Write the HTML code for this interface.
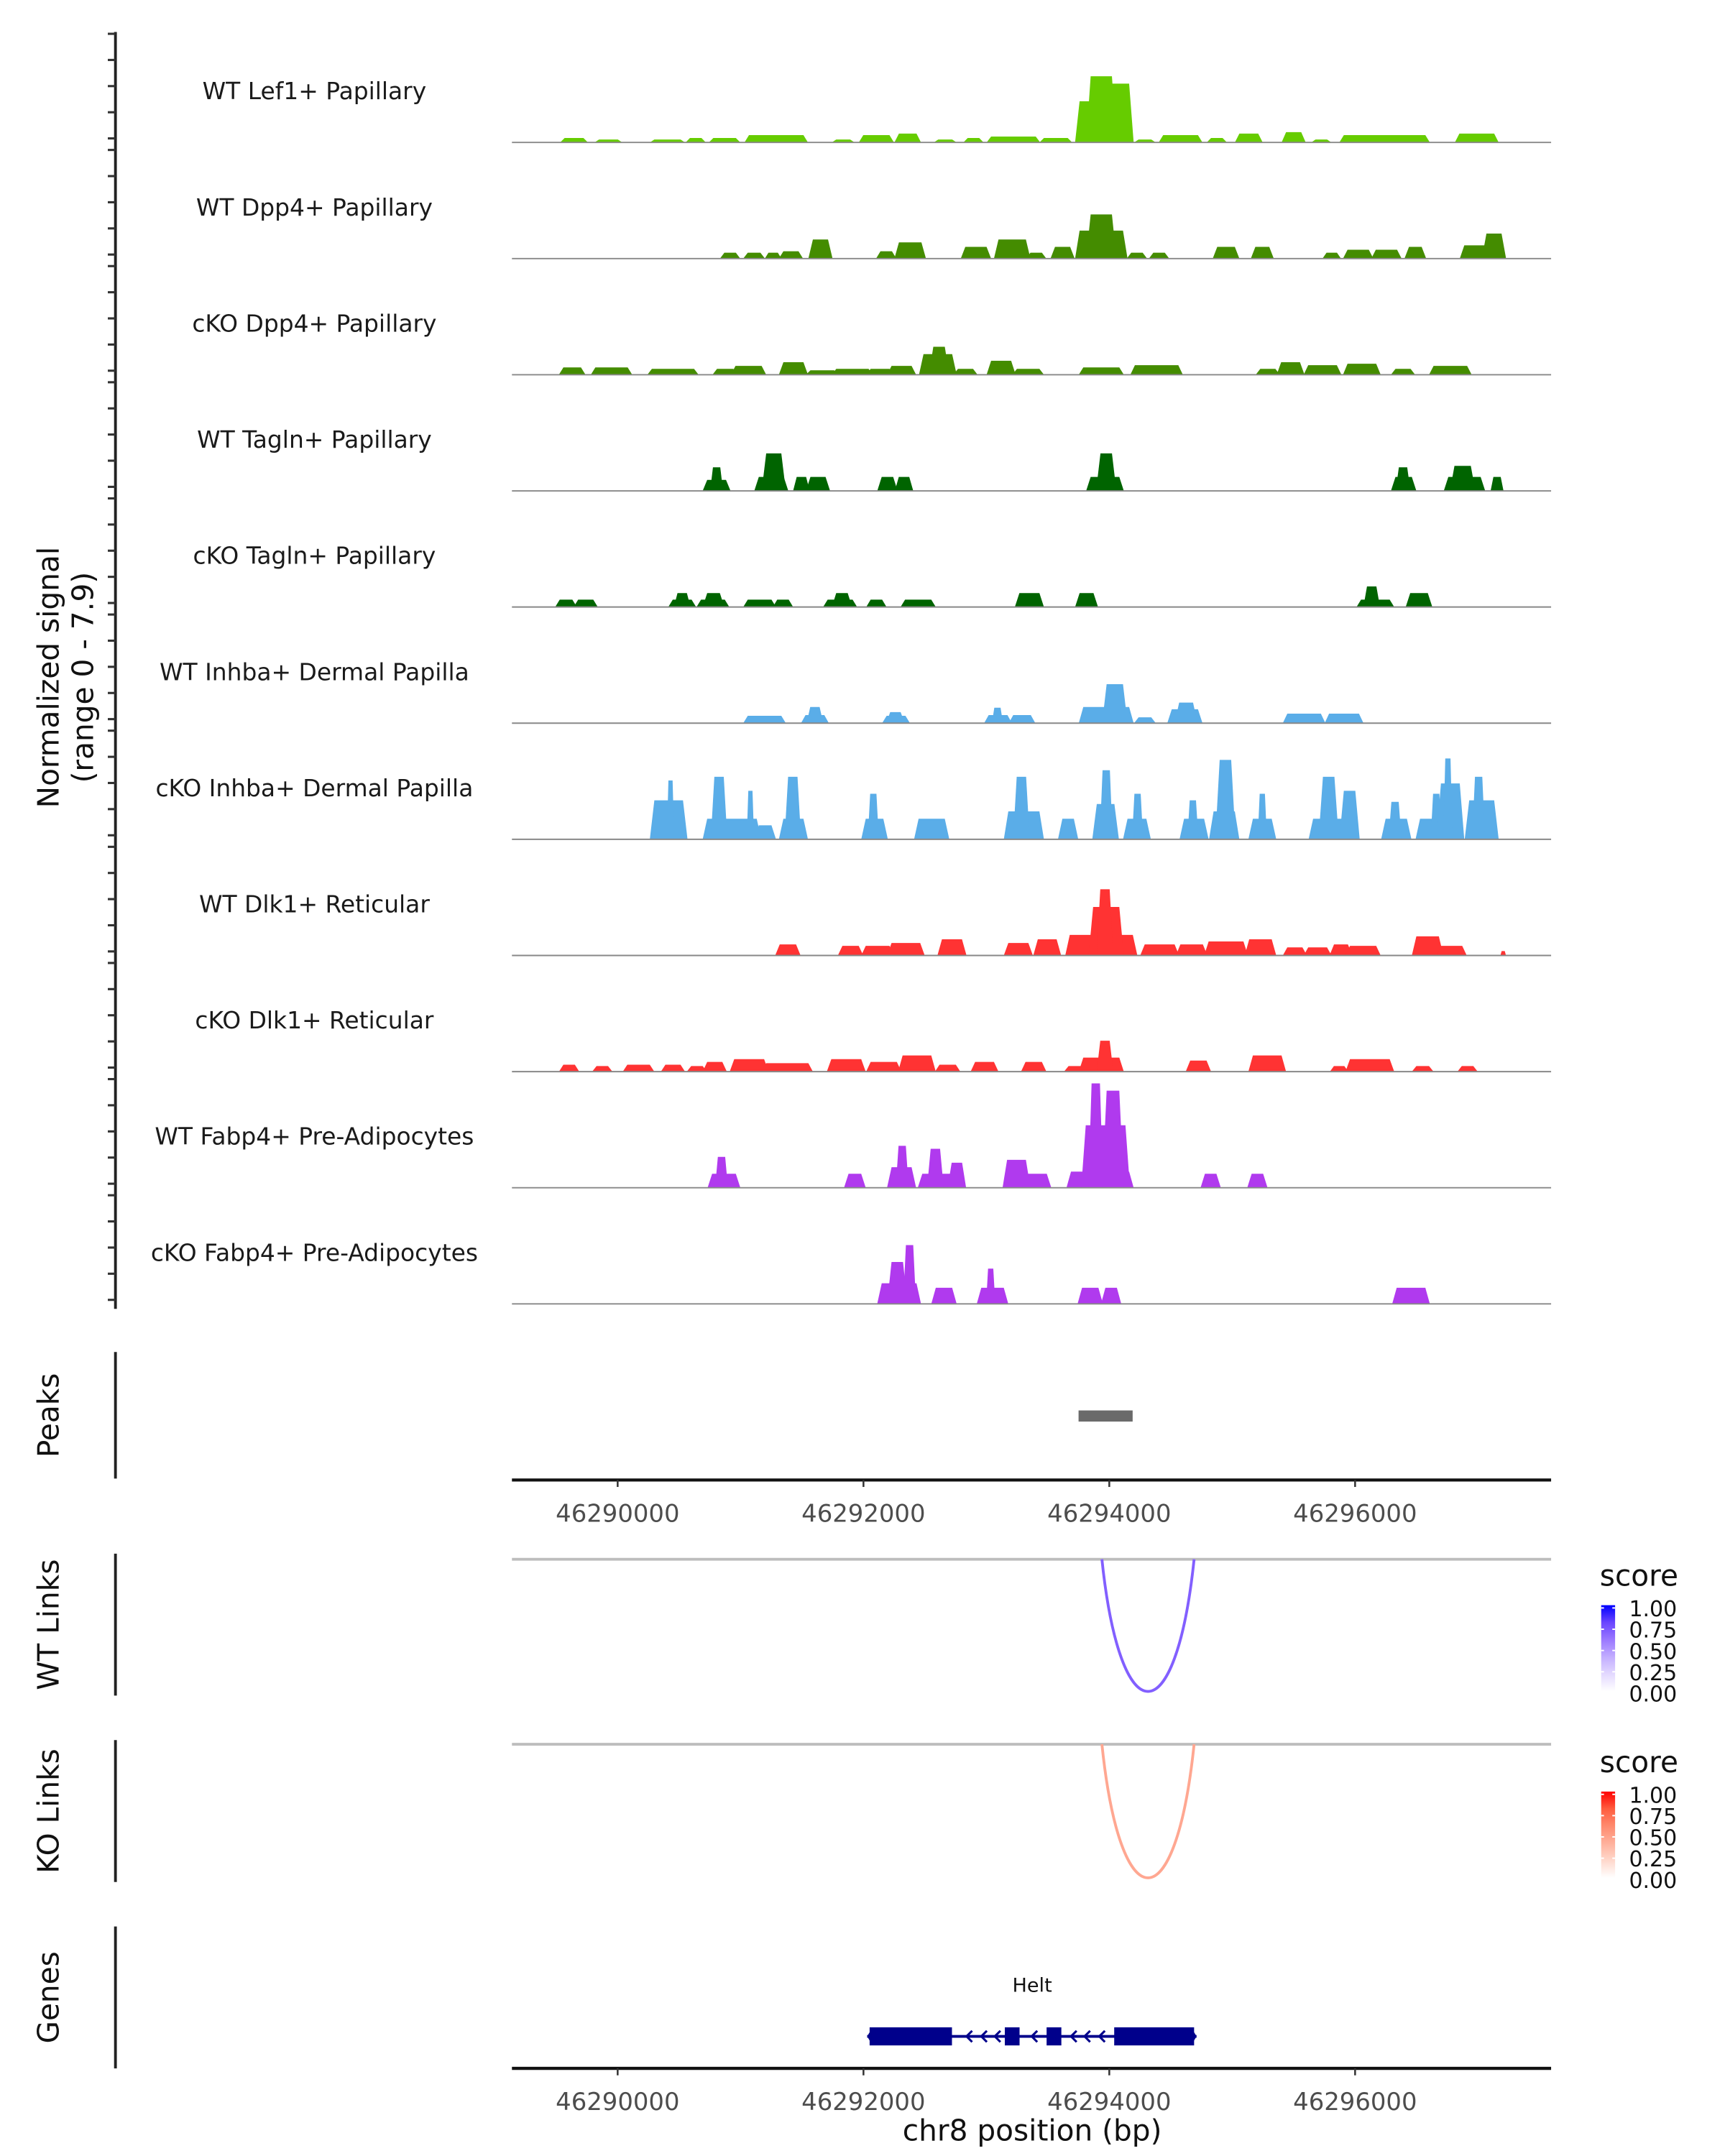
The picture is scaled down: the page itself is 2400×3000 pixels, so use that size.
<!DOCTYPE html>
<html><head><meta charset="utf-8"><title>Coverage plot chr8 Helt</title>
<style>html,body{margin:0;padding:0;background:#fff;}svg{display:block;font-family:"DejaVu Sans","Liberation Sans",sans-serif;}</style>
</head><body>
<svg id="chart" width="2400" height="3000" viewBox="0 0 1240 1550" xmlns="http://www.w3.org/2000/svg"></svg>
<script>
// ---- data (positions: kb offset from 46,290,000 bp; heights: normalized signal) ----
const trackNames = ["WT Lef1+ Papillary","WT Dpp4+ Papillary","cKO Dpp4+ Papillary","WT Tagln+ Papillary","cKO Tagln+ Papillary","WT Inhba+ Dermal Papilla","cKO Inhba+ Dermal Papilla","WT Dlk1+ Reticular","cKO Dlk1+ Reticular","WT Fabp4+ Pre-Adipocytes","cKO Fabp4+ Pre-Adipocytes"];
const trackColors = ["#66cc00","#448c00","#448c00","#006400","#006400","#5aade8","#5aade8","#ff3333","#ff3333","#b03aee","#b03aee"];
const xTicks = [46290000,46292000,46294000,46296000];
const xTickLabels = ["46290000","46292000","46294000","46296000"];
const legendTicks = ["1.00","0.75","0.50","0.25","0.00"];
const sigLef1 = [[-0.44,-0.27,0.3],[-0.16,0.01,0.2],[0.29,0.52,0.2],[0.58,0.69,0.3],[0.77,0.97,0.3],[1.06,1.52,0.5],[1.77,1.90,0.2],[1.99,2.22,0.5],[2.28,2.44,0.6],[2.60,2.73,0.2],[2.84,2.95,0.3],[3.03,3.41,0.4],[3.46,3.67,0.3],[3.75,3.92,2.8],[3.84,4.03,4.5],[3.97,4.17,4.0],[4.23,4.35,0.2],[4.43,4.73,0.5],[4.82,4.93,0.3],[5.05,5.22,0.6],[5.43,5.57,0.7],[5.67,5.78,0.2],[5.90,6.58,0.5],[6.84,7.14,0.6]];
const sigDpp4WT = [[0.86,0.97,0.4],[1.05,1.17,0.4],[1.22,1.31,0.4],[1.34,1.48,0.5],[1.58,1.72,1.3],[2.13,2.24,0.5],[2.28,2.48,1.1],[2.82,3.01,0.8],[3.09,3.33,1.3],[3.35,3.46,0.4],[3.55,3.69,0.8],[3.75,4.12,1.9],[3.84,4.03,3.0],[4.17,4.28,0.4],[4.35,4.46,0.4],[4.87,5.03,0.8],[5.18,5.31,0.8],[5.76,5.86,0.4],[5.93,6.12,0.6],[6.16,6.35,0.6],[6.43,6.55,0.8],[6.88,7.09,0.9],[7.06,7.20,1.7]];
const sigDpp4KO = [[-0.45,-0.29,0.5],[-0.19,0.09,0.5],[0.27,0.63,0.4],[0.80,0.95,0.4],[0.95,1.18,0.6],[1.34,1.52,0.85],[1.56,1.77,0.3],[1.77,2.05,0.4],[2.05,2.22,0.4],[2.22,2.40,0.6],[2.48,2.73,1.4],[2.56,2.67,1.9],[2.76,2.90,0.4],[3.03,3.21,0.95],[3.24,3.44,0.4],[3.78,4.09,0.5],[4.20,4.57,0.65],[5.22,5.36,0.4],[5.39,5.56,0.85],[5.61,5.86,0.65],[5.93,6.18,0.75],[6.32,6.46,0.4],[6.63,6.92,0.6]];
const sigTaglnWT = [[0.72,0.89,0.75],[0.77,0.84,1.6],[1.14,1.36,0.95],[1.20,1.34,2.55],[1.45,1.54,0.95],[1.56,1.70,0.95],[2.14,2.25,0.95],[2.28,2.38,0.95],[3.84,4.09,0.95],[3.92,4.03,2.55],[6.32,6.47,0.95],[6.35,6.43,1.6],[6.75,7.03,0.95],[6.80,6.95,1.7],[7.12,7.19,0.95]];
const sigTaglnKO = [[-0.48,-0.36,0.5],[-0.33,-0.19,0.5],[0.44,0.61,0.5],[0.48,0.57,0.95],[0.67,0.88,0.5],[0.72,0.84,0.95],[1.05,1.26,0.5],[1.29,1.40,0.5],[1.70,1.92,0.5],[1.77,1.88,0.95],[2.05,2.16,0.5],[2.33,2.56,0.5],[3.26,3.44,0.95],[3.75,3.88,0.95],[6.04,6.29,0.5],[6.09,6.18,1.4],[6.44,6.60,0.95]];
const sigInhbaWT = [[1.05,1.34,0.5],[1.52,1.69,0.55],[1.56,1.65,1.1],[2.18,2.35,0.5],[2.21,2.31,0.75],[3.01,3.18,0.55],[3.06,3.12,1.05],[3.21,3.37,0.55],[3.78,4.17,1.1],[3.97,4.12,2.65],[4.23,4.35,0.4],[4.50,4.73,0.95],[4.56,4.69,1.4],[5.44,5.73,0.65],[5.78,5.89,0.65],[5.86,6.04,0.65]];
const sigInhbaKO = [[0.29,0.54,2.65],[0.41,0.45,4.0],[0.72,1.14,1.4],[0.78,0.87,4.25],[1.06,1.10,3.3],[1.14,1.26,0.95],[1.34,1.52,1.4],[1.38,1.47,4.25],[2.01,2.17,1.4],[2.05,2.11,3.1],[2.44,2.67,1.4],[3.17,3.44,1.9],[3.24,3.33,4.25],[3.61,3.72,1.4],[3.89,4.05,2.4],[3.94,4.01,4.7],[4.14,4.31,1.4],[4.20,4.26,3.1],[4.60,4.78,1.4],[4.65,4.71,2.65],[4.84,5.03,1.9],[4.89,5.00,5.4],[5.16,5.33,1.4],[5.22,5.27,3.1],[5.65,5.90,1.4],[5.73,5.84,4.25],[5.90,6.01,3.3],[6.24,6.43,1.4],[6.29,6.36,2.55],[6.52,6.86,1.4],[6.63,6.69,3.1],[6.69,6.86,3.8],[6.73,6.78,5.5],[6.92,7.14,2.65],[6.97,7.04,4.25]];
const sigDlk1WT = [[1.31,1.46,0.75],[1.82,1.97,0.65],[2.01,2.22,0.65],[2.22,2.47,0.85],[2.63,2.81,1.1],[3.17,3.35,0.85],[3.41,3.58,1.1],[3.67,4.20,1.4],[3.86,4.09,3.3],[3.92,4.01,4.5],[4.28,4.54,0.75],[4.57,4.77,0.75],[4.80,5.10,0.95],[5.13,5.33,1.1],[5.44,5.58,0.55],[5.61,5.78,0.55],[5.82,5.95,0.75],[5.95,6.18,0.65],[6.49,6.69,1.3],[6.69,6.88,0.65],[7.19,7.22,0.3]];
const sigDlk1KO = [[-0.45,-0.34,0.47],[-0.18,-0.07,0.38],[0.07,0.27,0.47],[0.38,0.52,0.47],[0.59,0.70,0.38],[0.72,0.86,0.66],[0.94,1.20,0.85],[1.20,1.56,0.57],[1.73,1.99,0.85],[2.05,2.28,0.66],[2.31,2.56,1.1],[2.61,2.76,0.47],[2.90,3.07,0.66],[3.31,3.46,0.66],[3.66,3.80,0.38],[3.78,4.09,0.95],[3.92,4.01,2.1],[4.65,4.80,0.75],[5.16,5.41,1.1],[5.82,5.92,0.38],[5.95,6.29,0.85],[6.49,6.61,0.38],[6.86,6.97,0.38]];
const sigFabp4WT = [[0.76,0.97,0.95],[0.81,0.88,2.1],[1.87,1.99,0.95],[2.22,2.40,1.4],[2.28,2.35,2.85],[2.47,2.73,0.95],[2.54,2.63,2.65],[2.71,2.81,1.7],[3.16,3.33,1.9],[3.32,3.50,0.95],[3.68,4.17,1.1],[3.80,4.14,4.25],[3.85,3.93,7.1],[3.97,4.09,6.6],[4.77,4.88,0.95],[5.15,5.26,0.95]];
const sigFabp4KO = [[2.14,2.44,1.4],[2.22,2.33,2.85],[2.34,2.41,4.0],[2.58,2.73,1.1],[2.95,3.15,1.1],[3.01,3.06,2.4],[3.77,3.92,1.1],[3.96,4.07,1.1],[6.33,6.58,1.1]];
const signals = [sigLef1,sigDpp4WT,sigDpp4KO,sigTaglnWT,sigTaglnKO,sigInhbaWT,sigInhbaKO,sigDlk1WT,sigDlk1KO,sigFabp4WT,sigFabp4KO];
const peakRegions = [[3.75,4.19]];
const wtLinks = [[3.94,4.69,0.7]];
const koLinks = [[3.94,4.69,0.45]];
const geneExons = [[2.05,2.72],[3.15,3.27],[3.49,3.61],[4.04,4.69]];
const geneSpan = [2.03,4.71];
const geneArrows = [2.85,2.97,3.08,3.38,3.70,3.81,3.93];
const wtPalette = ["#ffffff","#e3d9ff","#c2adff","#9a78ff","#6a45ff","#0000ff"];
const koPalette = ["#ffffff","#ffd8cc","#ffb19c","#ff8a6e","#ff5d3f","#ff0000"];

// ---- scales ----
const X0=444, PXKB=88.35;
function xKb(o){return X0+o*PXKB;}
function xBp(bp){return X0+(bp-46290000)/1000*PXKB;}
const BASE0=102.4, TSTEP=83.5, PXU=10.57;
function yT(i,v){return BASE0+i*TSTEP - v*PXU;}

const svg=document.getElementById('chart');
const NS="http://www.w3.org/2000/svg";
function mk(tag,attrs,parent){const e=document.createElementNS(NS,tag);for(const k in attrs)e.setAttribute(k,attrs[k]);(parent||svg).appendChild(e);return e;}
function txt(s,attrs,parent){const e=mk('text',attrs,parent);e.textContent=s;return e;}

// left signal axis
let g=mk('g',{});


mk('line',{x1:83,y1:23,x2:83,y2:941,stroke:'#222','stroke-width':2},g);
for(let i=0;i<11;i++){for(let k=0;k<5;k++){const y=99.5+i*TSTEP-k*18.8;mk('line',{x1:77.5,y1:y,x2:83,y2:y,stroke:'#333','stroke-width':1.6},g);}}
let t=txt('Normalized signal',{x:0,y:0,'font-size':21,fill:'#111','text-anchor':'middle',transform:'translate(42,487) rotate(-90)'});


t=txt('(range 0 - 7.9)',{x:0,y:0,'font-size':21,fill:'#111','text-anchor':'middle',transform:'translate(67,487) rotate(-90)'});



// tracks
for(let i=0;i<11;i++){
  const tg=mk('g',{});
  
  
  const lb=txt(trackNames[i],{x:226,y:yT(i,0)-31,'font-size':17,fill:'#1a1a1a','text-anchor':'middle'},tg);
  
  
  const b=yT(i,0);
  signals[i].forEach(p=>{
    const s=xKb(p[0]),e=xKb(p[1]),top=yT(i,p[2]);const sl=Math.min(2.5,(e-s)/4);
    const pg=mk('polygon',{points:`${s-sl},${b} ${s+sl*0.3},${top} ${e-sl*0.3},${top} ${e+sl},${b}`,fill:trackColors[i]},tg);
    
    
  });
  const bl=mk('line',{x1:368,y1:b,x2:1115,y2:b,stroke:'#888','stroke-width':1},tg);
  
  
}

// side panel titles + axes
function sidePanel(name,label,y1,y2){
  const pg=mk('g',{});
  
  
  mk('line',{x1:83,y1:y1,x2:83,y2:y2,stroke:'#222','stroke-width':2},pg);
  txt(label,{x:0,y:0,'font-size':21,fill:'#111','text-anchor':'middle',transform:`translate(42,${(y1+y2)/2}) rotate(-90)`},pg);
}
sidePanel('peaks-panel-axis','Peaks',972,1063);
sidePanel('wt-links-panel-axis','WT Links',1117,1219);
sidePanel('ko-links-panel-axis','KO Links',1251,1353);
sidePanel('genes-panel-axis','Genes',1385,1487);

// peaks
peakRegions.forEach(p=>{
  const r=mk('rect',{x:xKb(p[0]),y:1014,width:xKb(p[1])-xKb(p[0]),height:8,fill:'#6a6a6a'});
  
  
});

// x axes
function xAxis(name,y,title){
  const ag=mk('g',{});
  
  
  mk('line',{x1:368,y1:y,x2:1115,y2:y,stroke:'#111','stroke-width':2.2},ag);
  xTicks.forEach((v,j)=>{const x=xBp(v);mk('line',{x1:x,y1:y,x2:x,y2:y+5,stroke:'#333','stroke-width':1.3},ag);
    txt(xTickLabels[j],{x:x,y:y+30,'font-size':17.5,fill:'#4d4d4d','text-anchor':'middle'},ag);});
  if(title){txt(title,{x:742,y:y+52,'font-size':21,fill:'#111','text-anchor':'middle'},ag);}
}
xAxis('peaks-x-axis',1064,null);
xAxis('bottom-x-axis',1487,'chr8 position (bp)');

function palColor(pal,t){const n=pal.length-1;const f=Math.max(0,Math.min(1,t))*n;const i=Math.min(n-1,Math.floor(f));const u=f-i;
  const a=[1,3,5].map(k=>parseInt(pal[i].substr(k,2),16)),b=[1,3,5].map(k=>parseInt(pal[i+1].substr(k,2),16));
  return 'rgb('+a.map((v,k)=>Math.round(v+(b[k]-v)*u)).join(',')+')';}

// links
function linkPanel(links,lineY,botY,pal,legY,kind){
  const lg=mk('g',{});
  
  
  mk('line',{x1:368,y1:lineY,x2:1115,y2:lineY,stroke:'#bdbdbd','stroke-width':2},lg);
  links.forEach(l=>{
    const s=xKb(l[0]),e=xKb(l[1]);const d=(botY-lineY)/0.75;
    const p=mk('path',{d:`M${s},${lineY} C${s+(e-s)*0.2},${lineY+d} ${e-(e-s)*0.2},${lineY+d} ${e},${lineY}`,fill:'none',stroke:palColor(pal,l[2]),'stroke-width':2},lg);
    
    
  });
  const leg=mk('g',{},lg);
  
  
  txt('score',{x:1150,y:legY,'font-size':21,fill:'#111'},leg);
  const gid='grad'+kind;
  const defs=mk('defs',{},leg);const gr=mk('linearGradient',{id:gid,x1:0,y1:1,x2:0,y2:0},defs);
  pal.forEach((c,j)=>mk('stop',{offset:j/(pal.length-1),'stop-color':c},gr));
  mk('rect',{x:1151,y:legY+14,width:10,height:62,fill:`url(#${gid})`},leg);
  legendTicks.forEach((s,j)=>{const y=legY+16+j*15.3;
    mk('line',{x1:1151,y1:y,x2:1153,y2:y,stroke:'#fff','stroke-width':1},leg);
    mk('line',{x1:1159,y1:y,x2:1161,y2:y,stroke:'#fff','stroke-width':1},leg);
    txt(s,{x:1171,y:y+6,'font-size':15.5,fill:'#111'},leg);});
}
linkPanel(wtLinks,1121,1216,wtPalette,1140,'wt');
linkPanel(koLinks,1254,1350,koPalette,1274,'ko');

// genes
const gg=mk('g',{});


txt('Helt',{x:742,y:1432,'font-size':14,fill:'#111','text-anchor':'middle'},gg);
mk('line',{x1:xKb(geneSpan[0]),y1:1464,x2:xKb(geneSpan[1]),y2:1464,stroke:'#00008b','stroke-width':2},gg);
geneExons.forEach(e=>{const r=mk('rect',{x:xKb(e[0]),y:1457.5,width:xKb(e[1])-xKb(e[0]),height:13,fill:'#00008b'},gg);
  
  });
geneArrows.forEach(a=>{const x=xKb(a);mk('polyline',{points:`${x+3},${1460} ${x-1},${1464} ${x+3},${1468}`,fill:'none',stroke:'#00008b','stroke-width':1.6},gg);});
mk('polygon',{points:`${xKb(geneSpan[0])},1464 ${xKb(geneSpan[0])+3},1459 ${xKb(geneSpan[0])+3},1469`,fill:'#00008b'},gg);
mk('polygon',{points:`${xKb(geneSpan[1])},1464 ${xKb(geneSpan[1])-3},1459 ${xKb(geneSpan[1])-3},1469`,fill:'#00008b'},gg);
</script>
</body></html>
